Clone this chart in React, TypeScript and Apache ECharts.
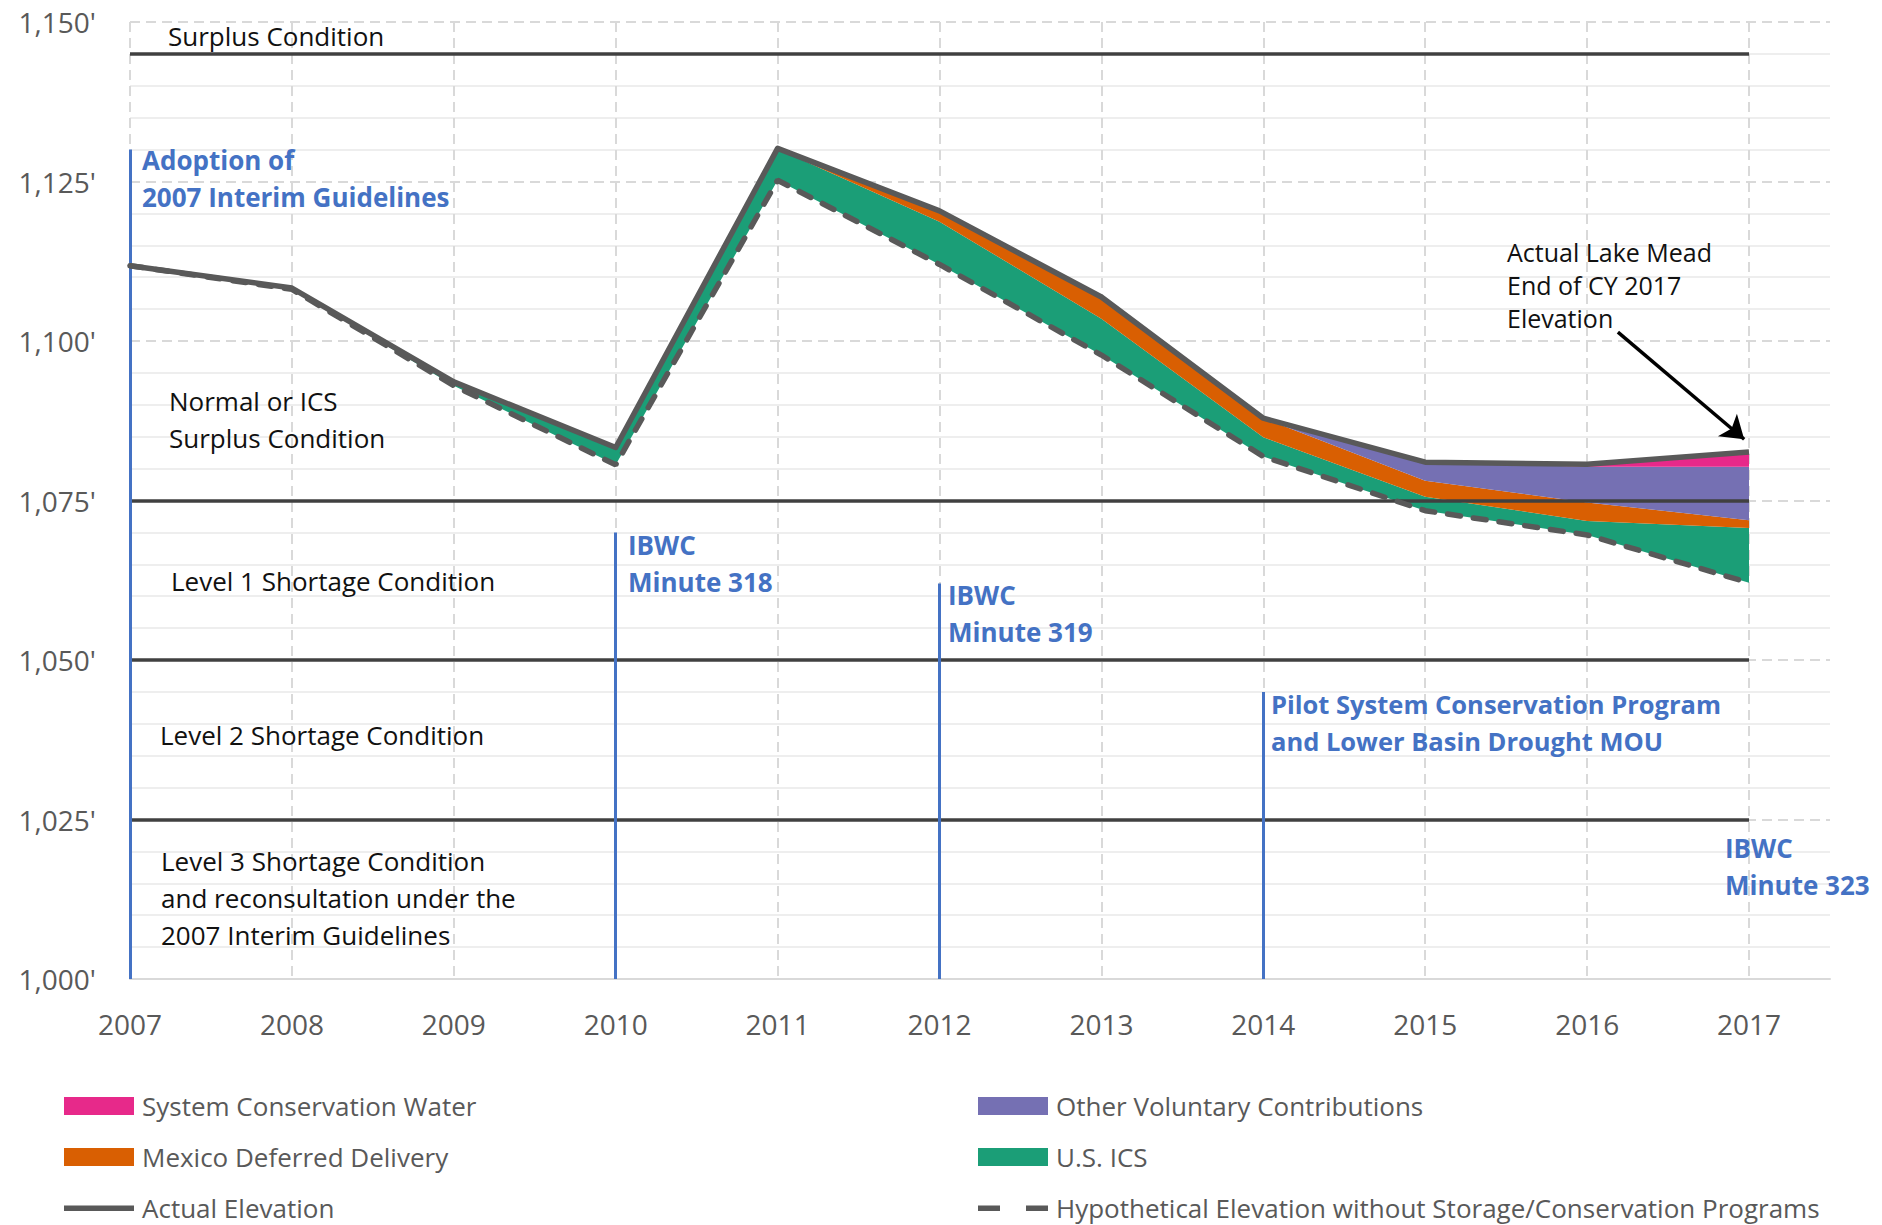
import React, { useEffect, useRef } from "react";
import * as echarts from "echarts";

const years = [2007, 2008, 2009, 2010, 2011, 2012, 2013, 2014, 2015, 2016, 2017];
const actualElev = [1111.8, 1108.3, 1093.6, 1083.3, 1130.2, 1120.4, 1106.9, 1087.9, 1081.0, 1080.7, 1082.6];
const hypoElev = [1111.8, 1108.1, 1093.0, 1080.6, 1125.2, 1112.0, 1097.8, 1081.9, 1073.4, 1069.6, 1062.1];
const usICS = [0, 0.2, 0.6, 2.7, 4.9, 6.7, 5.7, 3.0, 2.2, 2.2, 8.6];
const mexicoDeferred = [0, 0, 0, 0, 0.1, 1.7, 3.4, 3.0, 2.5, 2.9, 1.2];
const otherVoluntary = [0, 0, 0, 0, 0, 0, 0, 0, 2.9, 5.6, 8.4];
const systemConservation = [0, 0, 0, 0, 0, 0, 0, 0, 0, 0.4, 2.3];

const conditionLevels = [1145, 1075, 1050, 1025];
const milestoneYears = [2007, 2010, 2012, 2014];
const milestoneTops = [1130, 1070, 1062, 1045];

const FONT = "'Open Sans', sans-serif";
const BLUE = "#4472C4";
const GREY = "#595959";

const SOLID_ICON = "path://M0,0h0.05v0.05h-0.05z M0,6.5h70v5.5h-70z M69.95,17.95h0.05v0.05h-0.05z";
const DASH_ICON = "path://M0,0h0.05v0.05h-0.05z M0,6.5h22v5.5h-22z M48,6.5h22v5.5h-22z M69.95,17.95h0.05v0.05h-0.05z";

export default function App() {
  const ref = useRef<HTMLDivElement>(null);
  useEffect(() => {
    if (!ref.current) return;
    const chart = echarts.init(ref.current, null, { renderer: "svg" });

    const areaSeries = (name: string, vals: number[], color: string) => ({
      name,
      type: "line",
      xAxisIndex: 1,
      yAxisIndex: 1,
      stack: "elev",
      data: vals,
      symbol: "none",
      lineStyle: { width: 0 },
      itemStyle: { color },
      areaStyle: { color, opacity: 1 },
      z: 2,
      silent: true,
    });

    const txt = (text: string, x: number, y: number, opts: any = {}) => ({
      type: "text",
      x,
      y,
      z: 100,
      style: {
        text,
        fill: opts.fill || "#111",
        font: `${opts.bold ? "bold " : ""}${opts.size || 26}px 'Open Sans', sans-serif`,
        lineHeight: opts.lh || 37,
        verticalAlign: "top",
        align: "left",
      },
    });

    const legendBase = {
      orient: "vertical",
      top: 1091,
      height: 134,
      padding: 0,
      itemWidth: 70,
      itemHeight: 18,
      itemGap: 21,
      selectedMode: false,
      textStyle: { fontSize: 26, color: GREY, fontFamily: FONT, lineHeight: 30, padding: [0, 0, 0, 3] },
    };

    const option: any = {
      animation: false,
      backgroundColor: "#ffffff",
      grid: [
        { left: 130, right: 52, top: 22, bottom: 246 },
        { left: 130, right: 133, top: 22, bottom: 246 },
      ],
      xAxis: [
        {
          type: "value",
          gridIndex: 0,
          min: 2007,
          max: 2017.5,
          interval: 1,
          axisLine: { show: true, lineStyle: { color: "#D9D9D9", width: 2 } },
          axisTick: { show: false },
          splitLine: { show: false },
          axisLabel: {
            formatter: (v: number) => (Number.isInteger(v) ? String(v) : ""),
            color: GREY,
            fontSize: 28,
            fontFamily: FONT,
            margin: 31,
            showMaxLabel: false,
          },
        },
        {
          type: "category",
          gridIndex: 1,
          data: years.map(String),
          boundaryGap: false,
          axisLine: { show: false },
          axisTick: { show: false },
          axisLabel: { show: false },
          splitLine: { show: true, lineStyle: { color: "#D9D9D9", width: 2, type: [10, 6] } },
        },
      ],
      yAxis: [
        {
          type: "value",
          gridIndex: 0,
          min: 1000,
          max: 1150,
          interval: 25,
          axisLine: { show: false },
          axisTick: { show: false },
          axisLabel: {
            formatter: (v: number) => v.toLocaleString("en-US") + "'",
            color: GREY,
            fontSize: 28,
            fontFamily: FONT,
            margin: 34,
          },
          splitLine: { show: true, lineStyle: { color: "#D9D9D9", width: 2, type: [10, 6] } },
          minorTick: { show: false, splitNumber: 5 },
          minorSplitLine: { show: true, lineStyle: { color: "#EEEEEE", width: 2 } },
        },
        {
          type: "value",
          gridIndex: 1,
          min: 1000,
          max: 1150,
          show: false,
          splitLine: { show: false },
        },
      ],
      legend: [
        {
          ...legendBase,
          left: 64,
          data: [
            { name: "System Conservation Water", icon: "rect" },
            { name: "Mexico Deferred Delivery", icon: "rect" },
            { name: "Actual Elevation", icon: SOLID_ICON },
          ],
        },
        {
          ...legendBase,
          left: 978,
          data: [
            { name: "Other Voluntary Contributions", icon: "rect" },
            { name: "U.S. ICS", icon: "rect" },
            { name: "Hypothetical Elevation without Storage/Conservation Programs", icon: DASH_ICON },
          ],
        },
      ],
      series: [
        {
          name: "_base",
          type: "line",
          xAxisIndex: 1,
          yAxisIndex: 1,
          stack: "elev",
          data: hypoElev,
          symbol: "none",
          lineStyle: { width: 0, opacity: 0 },
          silent: true,
          z: 2,
        },
        areaSeries("U.S. ICS", usICS, "#1B9E77"),
        areaSeries("Mexico Deferred Delivery", mexicoDeferred, "#D95F02"),
        areaSeries("Other Voluntary Contributions", otherVoluntary, "#7570B3"),
        areaSeries("System Conservation Water", systemConservation, "#E7298A"),
        {
          name: "_conditions",
          type: "line",
          data: [],
          z: 4,
          silent: true,
          markLine: {
            silent: true,
            symbol: ["none", "none"],
            label: { show: false },
            lineStyle: { color: "#404040", width: 3.5, type: "solid" },
            data: conditionLevels.map((l) => [{ coord: [2007, l] }, { coord: [2017, l] }]),
          },
        },
        {
          name: "_milestones",
          type: "line",
          data: [],
          z: 5,
          silent: true,
          markLine: {
            silent: true,
            symbol: ["none", "none"],
            label: { show: false },
            lineStyle: { color: BLUE, width: 3, type: "solid" },
            data: milestoneYears.map((y, i) => [{ coord: [y, 1000] }, { coord: [y, milestoneTops[i]] }]),
          },
        },
        {
          name: "_arrow",
          type: "line",
          data: [],
          z: 8,
          silent: true,
          markLine: {
            silent: true,
            symbol: ["none", "arrow"],
            symbolSize: 22,
            label: { show: false },
            lineStyle: { color: "#000", width: 3.5, type: "solid" },
            data: [[{ coord: [2016.19, 1101.4] }, { coord: [2016.97, 1084.6] }]],
          },
        },
        {
          name: "Hypothetical Elevation without Storage/Conservation Programs",
          type: "line",
          xAxisIndex: 1,
          yAxisIndex: 1,
          data: hypoElev,
          symbol: "none",
          itemStyle: { color: GREY },
          lineStyle: { color: GREY, width: 5.5, type: [13, 13], cap: "round" },
          z: 6,
          silent: true,
        },
        {
          name: "Actual Elevation",
          type: "line",
          xAxisIndex: 1,
          yAxisIndex: 1,
          data: actualElev,
          symbol: "none",
          itemStyle: { color: GREY },
          lineStyle: { color: GREY, width: 5.5, join: "round" },
          z: 7,
          silent: true,
        },
      ],
      graphic: [
        txt("Surplus Condition", 168, 18, { lh: 36 }),
        txt("Adoption of\n2007 Interim Guidelines", 142, 141.5, { bold: true, fill: BLUE }),
        txt("Normal or ICS\nSurplus Condition", 169, 382.5),
        txt("Level 1 Shortage Condition", 171, 562.5),
        txt("Level 2 Shortage Condition", 160, 716.5),
        txt("Level 3 Shortage Condition\nand reconsultation under the\n2007 Interim Guidelines", 161, 842.5),
        txt("IBWC\nMinute 318", 628, 526.5, { bold: true, fill: BLUE }),
        txt("IBWC\nMinute 319", 948, 576.5, { bold: true, fill: BLUE }),
        txt("Pilot System Conservation Program\nand Lower Basin Drought MOU", 1271, 685.5, { bold: true, fill: BLUE, size: 25.5 }),
        txt("IBWC\nMinute 323", 1725, 829.5, { bold: true, fill: BLUE }),
        txt("Actual Lake Mead\nEnd of CY 2017\nElevation", 1507, 235.5, { lh: 33, size: 25 }),
      ],
    };

    chart.setOption(option);
    return () => chart.dispose();
  }, []);

  return (
    <div
      ref={ref}
      style={{ position: "absolute", left: 0, top: 0, width: 1882, height: 1225, background: "#fff" }}
    />
  );
}
